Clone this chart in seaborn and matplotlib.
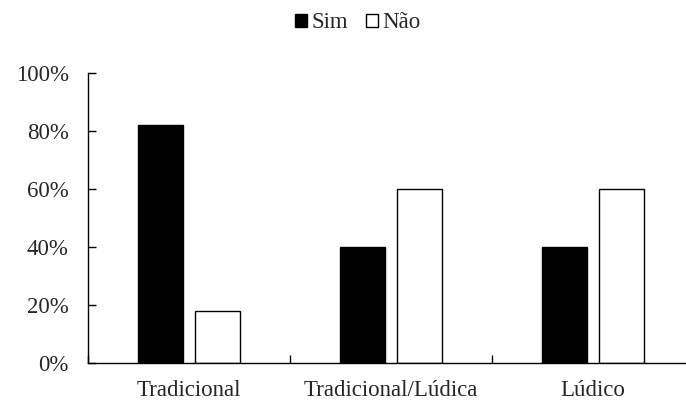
import matplotlib
matplotlib.use("Agg")
import matplotlib.pyplot as plt
import matplotlib.ticker as mtick
from matplotlib.patches import Patch
import pandas as pd
import seaborn as sns

categories = ["Tradicional", "Tradicional/Lúdica", "Lúdico"]
sim = [82, 40, 40]
nao = [18, 60, 60]
series = ["Sim", "Não"]

df = pd.DataFrame({"Categoria": categories, "Sim": sim, "Não": nao})
df = pd.melt(df, id_vars="Categoria", var_name="Resposta", value_name="Pct")

sns.set_style("white")
plt.rcParams["font.family"] = ["Liberation Serif", "DejaVu Serif"]
fs = 16.5

fig = plt.figure(figsize=(6.86, 4.03), dpi=100)
ax = fig.add_axes([88 / 686, 40 / 403, 606 / 686, 290 / 403])

sns.barplot(data=df, x="Categoria", y="Pct", hue="Resposta", hue_order=series,
            palette={"Sim": "black", "Não": "white"}, edgecolor="black",
            linewidth=1, width=0.565, gap=0.21, ax=ax, legend=False)

ax.set_xlim(-0.5, 2.5)
ax.set_ylim(0, 100)
ax.set_yticks(range(0, 101, 20))
ax.yaxis.set_major_formatter(mtick.PercentFormatter(100, decimals=0))
ax.set_xlabel("")
ax.set_ylabel("")

ax.set_xticks([-0.5, 0.5, 1.5, 2.5], minor=True)
ax.tick_params(axis="x", which="major", length=0, pad=12.5, labelsize=fs)
ax.tick_params(axis="x", which="minor", direction="in", length=6, width=1, color="black")
ax.tick_params(axis="y", direction="in", length=6, width=1, color="black", pad=14, labelsize=fs)
ax.yaxis.set_ticks_position("left")
ax.xaxis.set_ticks_position("bottom")

for s in ["top", "right"]:
    ax.spines[s].set_visible(False)
for s in ["left", "bottom"]:
    ax.spines[s].set_color("black")
    ax.spines[s].set_linewidth(1)

handles = [Patch(facecolor="black", edgecolor="black", label="Sim"),
           Patch(facecolor="white", edgecolor="black", label="Não")]
fig.legend(handles=handles, loc="center", bbox_to_anchor=(358 / 686, 1 - 23 / 403),
           ncol=2, frameon=False, fontsize=fs, handlelength=0.5, handleheight=0.5,
           handletextpad=0.2, columnspacing=0.8)

fig.savefig("out.png", dpi=100)
